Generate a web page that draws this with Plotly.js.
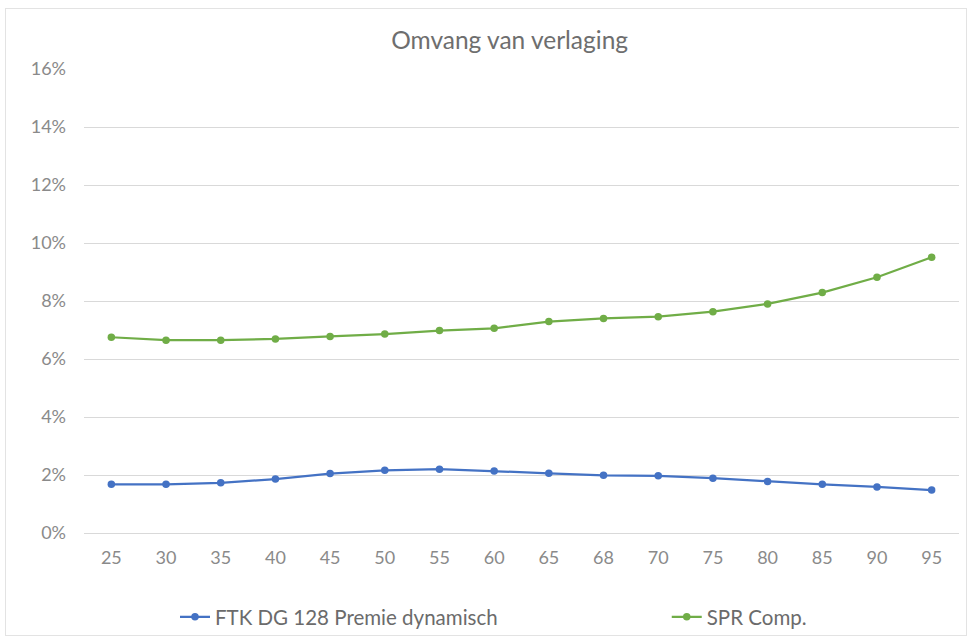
<!DOCTYPE html>
<html>
<head>
<meta charset="utf-8">
<script src="https://cdn.plot.ly/plotly-3.0.1.min.js"></script>
<style>
html,body{margin:0;padding:0;background:#fff;}
#frame{position:absolute;left:5px;top:8px;width:962px;height:628px;border:1px solid #e3e3e3;box-sizing:border-box;}
#chart{position:absolute;left:0;top:0;width:967px;height:636px;}
</style>
</head>
<body>
<div id="frame"></div>
<div id="chart"></div>
<script>
const categories = ["25","30","35","40","45","50","55","60","65","68","70","75","80","85","90","95"];
const ftkValues = [1.68,1.68,1.73,1.86,2.05,2.16,2.20,2.14,2.06,1.99,1.97,1.89,1.78,1.68,1.59,1.48];
const sprValues = [6.75,6.65,6.65,6.69,6.78,6.86,6.98,7.06,7.29,7.40,7.46,7.63,7.90,8.29,8.82,9.51];
const seriesNames = ["FTK DG 128 Premie dynamisch","SPR Comp."];
const yTicks = [0,2,4,6,8,10,12,14,16];
const yTickLabels = ["0%","2%","4%","6%","8%","10%","12%","14%","16%"];

const font = "Lato, 'Open Sans', sans-serif";
const traces = [
  {x: categories, y: ftkValues, name: seriesNames[0], type: 'scatter', mode: 'lines+markers',
   line: {color: '#4472C4', width: 2.25}, marker: {color: '#4472C4', size: 7.5}, legend: 'legend'},
  {x: categories, y: sprValues, name: seriesNames[1], type: 'scatter', mode: 'lines+markers',
   line: {color: '#70AD47', width: 2.25}, marker: {color: '#70AD47', size: 7.5}, legend: 'legend2'}
];
const legendFont = {family: font, size: 20.5, color: '#6b6b6b'};
const layout = {
  width: 967, height: 636,
  margin: {l: 84, r: 8, t: 69, b: 103, autoexpand: false},
  paper_bgcolor: 'rgba(0,0,0,0)', plot_bgcolor: 'rgba(0,0,0,0)',
  font: {family: font, color: '#8a8a8a', size: 18},
  title: {text: 'Omvang van verlaging', x: 0.527, xanchor: 'center', y: 0.937, yanchor: 'middle',
          font: {family: font, size: 24.5, color: '#6e6e6e'}},
  xaxis: {type: 'category', range: [-0.5, 15.5], showgrid: false, zeroline: false, showline: false,
          ticks: '', tickfont: {size: 18, color: '#8a8a8a'}, ticklabelstandoff: 12},
  yaxis: {range: [0, 16], tickvals: yTicks, ticktext: yTickLabels, showgrid: true,
          gridcolor: '#d9d9d9', gridwidth: 1, zeroline: true, zerolinecolor: '#d9d9d9', zerolinewidth: 1,
          showline: false, ticks: '', tickfont: {size: 18, color: '#8a8a8a'}, ticklabelstandoff: 17},
  showlegend: true,
  legend: {orientation: 'h', x: 0.104, xanchor: 'left', y: -0.138, yanchor: 'top',
           font: legendFont, bgcolor: 'rgba(0,0,0,0)'},
  legend2: {orientation: 'h', x: 0.666, xanchor: 'left', y: -0.138, yanchor: 'top',
           font: legendFont, bgcolor: 'rgba(0,0,0,0)'}
};
Plotly.newPlot('chart', traces, layout, {displayModeBar: false, staticPlot: true});
</script>
</body>
</html>
